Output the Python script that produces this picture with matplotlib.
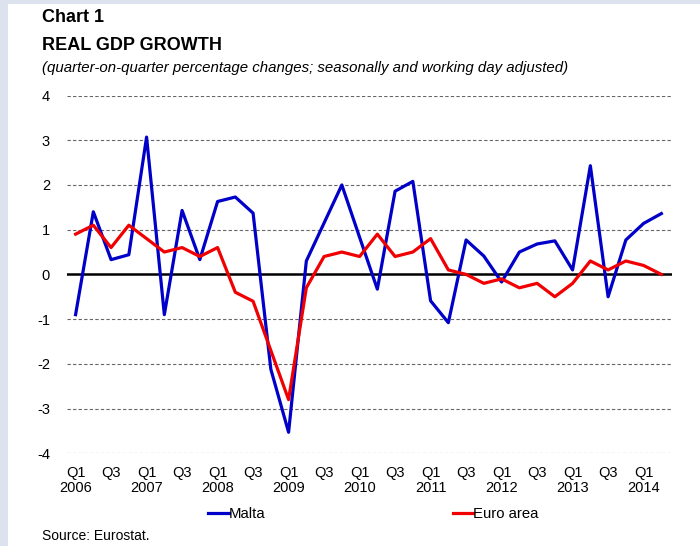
import matplotlib.pyplot as plt
from matplotlib.patches import Rectangle

plt.rcParams['font.family'] = ['Liberation Sans', 'DejaVu Sans']
plt.rcParams['axes.unicode_minus'] = False

# quarterly data, Q1 2006 .. Q2 2014
quarters = [f'Q{q} {y}' for y in range(2006, 2015) for q in (1, 2, 3, 4)][:34]
malta = [-0.9, 1.4, 0.33, 0.44, 3.07, -0.9, 1.43, 0.33, 1.63, 1.73, 1.37, -2.12,
         -3.53, 0.3, 1.15, 2.0, 0.83, -0.33, 1.86, 2.08, -0.59, -1.08, 0.77, 0.41,
         -0.17, 0.5, 0.68, 0.75, 0.1, 2.43, -0.5, 0.77, 1.14, 1.36]
euro = [0.9, 1.1, 0.6, 1.1, 0.8, 0.5, 0.6, 0.4, 0.6, -0.4, -0.6, -1.7,
        -2.8, -0.3, 0.4, 0.5, 0.4, 0.9, 0.4, 0.5, 0.8, 0.1, 0.0, -0.2,
        -0.1, -0.3, -0.2, -0.5, -0.2, 0.3, 0.1, 0.3, 0.2, 0.0]

tick_labels = []
for i, q in enumerate(quarters):
    if i % 2 == 0:
        qq, yr = q.split()
        tick_labels.append(f'{qq}\n{yr}' if qq == 'Q1' else qq)

fig = plt.figure(figsize=(7, 5.46), dpi=100)
fig.patch.set_facecolor('#dce3ee')
fig.patches.append(Rectangle((8 / 700, 0), 1, 1 - 4 / 546, transform=fig.transFigure,
                             facecolor='white', edgecolor='none', zorder=-5))

ax = fig.add_axes([66.7 / 700, 1 - 453.3 / 546, (672 - 66.7) / 700, (453.3 - 95.5) / 546])
ax.set_facecolor('none')

x = list(range(len(quarters)))
l1, = ax.plot(x, malta, color='#0000c8', lw=2.3, label='Malta', zorder=3)
l2, = ax.plot(x, euro, color='#f00000', lw=2.3, label='Euro area', zorder=3)

ax.set_ylim(-4, 4)
ax.set_xlim(-0.5, 33.6)
ax.set_yticks(range(-4, 5))
for v in range(-4, 5):
    if v == 0:
        ax.axhline(0, color='black', lw=1.8, zorder=2)
    else:
        ax.axhline(v, color='#666666', lw=0.8, ls=(0, (3, 2)), zorder=1)

ax.set_xticks(x[::2])
ax.set_xticklabels(tick_labels, fontsize=10.5, linespacing=1.15)
ax.tick_params(axis='y', labelsize=10.5, length=0, pad=12)
ax.tick_params(axis='x', length=0, pad=9)
for lab in ax.get_xticklabels():
    lab.set_verticalalignment('top')
for s in ax.spines.values():
    s.set_visible(False)

fig.text(42 / 700, 1 - 18 / 546, 'Chart 1', fontsize=13, fontweight='bold', va='center')
fig.text(42 / 700, 1 - 46 / 546, 'REAL GDP GROWTH', fontsize=13, fontweight='bold', va='center')
fig.text(42 / 700, 1 - 68 / 546,
         '(quarter-on-quarter percentage changes; seasonally and working day adjusted)',
         fontsize=10.8, style='italic', va='center')
fig.text(42 / 700, 1 - 536 / 546, 'Source: Eurostat.', fontsize=10, va='center')

fig.legend(handles=[l1, l2], loc='center left', bbox_to_anchor=(208 / 700, 1 - 514 / 546),
           ncol=2, frameon=False, fontsize=10.7, handlelength=1.4, handletextpad=0.0,
           columnspacing=12.6, borderaxespad=0, borderpad=0)

fig.savefig('out.png', dpi=100, facecolor=fig.get_facecolor())
